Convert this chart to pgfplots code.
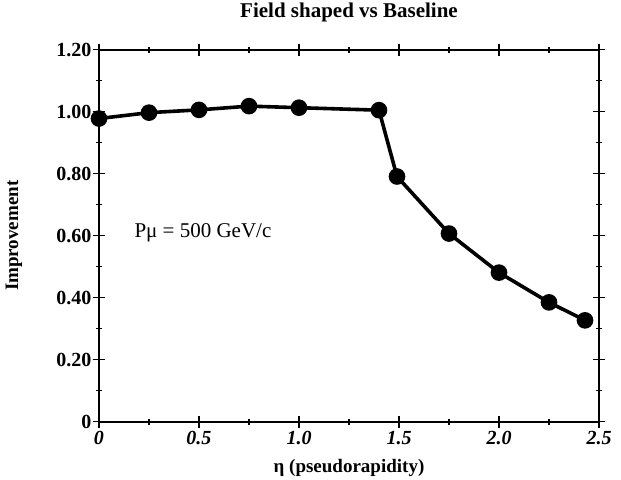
\documentclass[border=0pt]{standalone}
\usepackage{pgfplots}
\pgfplotsset{compat=1.18}
\usepackage{fontspec}
\setmainfont{Liberation Serif}
\begin{document}
\begin{tikzpicture}
\begin{axis}[
  scale only axis,
  width=500pt, height=372pt,
  xmin=0, xmax=2.5, ymin=0, ymax=1.2,
  xtick={0,0.5,1.0,1.5,2.0,2.5},
  xticklabels={\textit{0},\textit{0.5},\textit{1.0},\textit{1.5},\textit{2.0},\textit{2.5}},
  ytick={0,0.2,0.4,0.6,0.8,1.0,1.2},
  yticklabels={0,0.20,0.40,0.60,0.80,1.00,1.20},
  minor x tick num=1, minor y tick num=1,
  tick align=center,
  major tick length=12pt, minor tick length=6pt,
  every tick/.style={black, line width=1.2pt},
  axis line style={line width=1.8pt},
  ticklabel style={font=\fontsize{20}{22}\selectfont\bfseries},
  yticklabel style={xshift=2pt},
  title={Field shaped vs Baseline},
  title style={font=\fontsize{21}{23}\selectfont\bfseries, at={(axis description cs:0.5,1.083)}, anchor=center},
  xlabel={η (pseudorapidity)},
  ylabel={Improvement},
  label style={font=\fontsize{19}{21}\selectfont\bfseries},
  xlabel style={at={(axis description cs:0.5,-0.124)}, anchor=center},
  ylabel style={at={(axis description cs:-0.17,0.5)}, anchor=center},
  clip=false,
]
\addplot[black, line width=3.6pt, mark=*, mark size=6.5pt] coordinates {
 (0,0.978) (0.25,0.997) (0.5,1.006) (0.75,1.018) (1.0,1.013) (1.4,1.005)
 (1.49,0.791) (1.75,0.607) (2.0,0.481) (2.25,0.385) (2.43,0.327)
};
\node[anchor=west, font=\fontsize{21}{23}\selectfont] at (axis cs:0.16,0.61) {Pμ = 500 GeV/c};
\end{axis}
\path (current axis.south west) ++(-99pt,-58pt) coordinate (bbA);
\path (current axis.north east) ++(22pt,46pt) coordinate (bbB);
\useasboundingbox (bbA) rectangle (bbB);
\end{tikzpicture}
\end{document}
